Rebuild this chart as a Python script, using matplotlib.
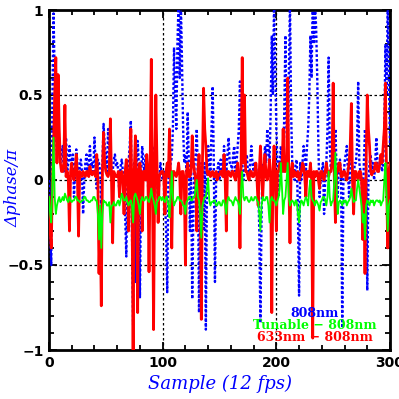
import numpy as np
import matplotlib
matplotlib.use("Agg")
import matplotlib.pyplot as plt

# phase per frame, samples 0..300
blue_808 = [
    0.0, -0.3, -0.5, 0.5, 0.98, 0.6, 0.3, 0.15, 0.42, 0.2,
    0.1, 0.15, 0.2, 0.05, 0.13, 0.25, 0.05, 0.1, 0.2, 0.12,
    0.08, 0.15, -0.1, 0.05, 0.18, 0.1, 0.0, 0.08, 0.12, 0.05,
    -0.2, 0.0, 0.1, 0.15, 0.05, 0.1, 0.2, 0.08, 0.1, 0.05,
    0.25, 0.1, -0.05, 0.12, 0.1, 0.05, -0.2, 0.1, 0.33, 0.2,
    0.15, 0.05, 0.3, 0.18, 0.1, 0.05, 0.05, 0.12, 0.15, 0.08,
    0.1, 0.05, -0.1, 0.08, 0.12, 0.05, 0.0, -0.2, -0.45, 0.0,
    0.1, 0.2, 0.35, -0.3, -0.85, 0.1, -0.6, 0.05, 0.23, 0.1,
    -0.69, 0.0, 0.2, 0.1, 0.05, 0.15, 0.12, 0.0, -0.2, 0.05,
    0.1, 0.2, -0.3, 0.1, 0.28, 0.05, -0.15, 0.0, 0.1, 0.05,
    0.0, 0.05, -0.1, -0.3, -0.66, 0.0, 0.05, 0.1, 0.13, 0.3,
    0.78, 0.5, 0.3, 0.8, 1.05, 0.6, 1.05, 0.7, 0.3, 0.1,
    0.15, 0.05, 0.4, 0.1, -0.3, 0.05, -0.7, -0.2, 0.1, 0.15,
    0.3, 0.0, -0.78, -0.1, 0.1, 0.05, -0.3, 0.1, -0.88, 0.0,
    0.2, 0.1, 0.05, 0.3, 0.55, 0.1, -0.6, 0.0, 0.05, 0.1,
    0.0, 0.12, 0.1, 0.05, 0.2, 0.1, 0.05, 0.15, 0.25, 0.1,
    0.1, 0.05, 0.15, 0.2, 0.05, 0.1, 0.2, 0.3, 0.58, 0.2,
    0.1, 0.0, 0.05, 0.1, 0.15, 0.05, 0.0, 0.1, 0.2, 0.1,
    0.05, 0.1, 0.1, 0.0, 0.0, -0.3, -0.84, -0.2, 0.1, 0.05,
    0.2, 0.1, 0.3, 0.2, 0.1, 0.4, 0.85, 0.5, 1.05, 0.7,
    0.3, 0.1, -0.1, 0.1, 0.2, 0.1, 0.05, 0.4, 0.85, 0.3,
    0.15, 0.6, 1.05, 0.4, 0.1, 0.05, 0.0, 0.1, 0.12, -0.2,
    -0.68, 0.1, 0.0, 0.1, 0.2, 0.15, 0.05, 0.2, 0.3, 0.5,
    0.85, 0.6, 1.05, 0.8, 1.05, 0.9, 0.6, 0.2, -0.1, 0.0,
    0.05, 0.1, -0.2, 0.0, 0.1, 0.3, 0.72, 0.2, 0.05, 0.1,
    0.1, 0.15, 0.3, 0.05, -0.1, 0.1, 0.12, 0.0, -0.87, 0.0,
    0.1, 0.15, 0.2, 0.05, -0.1, 0.1, 0.12, 0.05, 0.0, 0.1,
    0.1, 0.2, 0.58, 0.1, 0.05, 0.0, -0.2, 0.1, 0.3, 0.1,
    -0.65, 0.0, 0.1, 0.15, 0.05, 0.1, 0.0, 0.1, 0.25, 0.1,
    0.05, 0.1, 0.1, 0.05, 0.1, 0.3, 0.8, 0.5, 1.05, 0.6,
    0.2,
]
red_633 = [
    -0.1, -0.3, -0.4, 0.0, 0.2, 0.5, 0.72, 0.1, 0.62, 0.3,
    0.1, 0.05, 0.05, 0.1, 0.44, 0.02, 0.05, 0.0, -0.3, 0.05,
    0.1, 0.03, 0.0, 0.05, 0.15, 0.02, -0.33, 0.05, 0.04, 0.02,
    0.05, 0.03, 0.02, 0.05, 0.05, 0.02, 0.08, 0.04, 0.03, 0.05,
    0.04, 0.02, 0.15, 0.0, -0.55, -0.2, -0.74, 0.05, 0.28, 0.1,
    0.05, 0.03, 0.02, 0.05, 0.36, 0.0, -0.37, 0.05, 0.03, 0.02,
    0.02, 0.05, -0.1, 0.03, 0.05, 0.0, -0.2, 0.05, 0.12, 0.02,
    -0.3, 0.05, 0.3, -0.1, -1.0, 0.05, 0.26, 0.0, -0.78, 0.05,
    0.1, 0.02, -0.3, 0.05, 0.05, 0.0, 0.15, 0.05, -0.54, 0.1,
    0.71, 0.0, -0.88, 0.05, 0.5, 0.1, -0.25, 0.02, 0.04, 0.05,
    0.05, 0.02, -0.2, 0.05, 0.1, 0.02, 0.3, 0.0, -0.4, 0.05,
    0.05, 0.03, 0.02, 0.05, 0.1, 0.02, -0.2, 0.05, 0.05, 0.0,
    -0.5, 0.05, 0.1, 0.02, 0.02, 0.05, 0.26, 0.1, 0.05, 0.0,
    -0.3, 0.05, 0.15, 0.0, -0.82, 0.1, 0.54, 0.3, 0.2, 0.05,
    0.03, 0.05, 0.02, 0.04, 0.05, 0.02, 0.02, 0.05, 0.0, 0.03,
    0.03, 0.05, 0.05, 0.02, 0.15, 0.0, -0.3, 0.05, 0.05, 0.03,
    0.02, 0.05, 0.05, 0.02, 0.0, 0.05, 0.1, 0.0, -0.4, 0.1,
    0.72, 0.1, 0.5, 0.05, 0.05, 0.02, 0.0, 0.05, 0.05, 0.02,
    0.02, 0.05, 0.1, 0.0, -0.15, 0.05, 0.2, 0.05, -0.1, 0.05,
    0.15, 0.02, 0.0, 0.05, 0.12, 0.0, -0.78, 0.05, 0.2, 0.05,
    -0.3, 0.05, 0.05, 0.1, 0.1, 0.05, 0.3, 0.05, 0.05, 0.1,
    0.6, 0.0, -0.37, 0.05, 0.1, 0.02, 0.05, 0.03, 0.02, 0.05,
    0.0, 0.02, 0.05, 0.1, 0.08, 0.02, -0.1, 0.05, 0.05, 0.02,
    0.1, 0.0, -0.93, 0.05, 0.02, 0.05, 0.05, 0.0, -0.05, 0.05,
    0.05, 0.02, 0.0, 0.05, 0.1, 0.05, 0.02, 0.05, 0.05, 0.1,
    0.57, 0.0, -0.25, 0.05, 0.05, 0.1, 0.1, 0.02, 0.02, 0.05,
    0.05, 0.02, 0.0, 0.05, 0.1, 0.2, 0.45, 0.0, -0.2, 0.05,
    0.05, 0.02, 0.0, 0.05, 0.05, 0.0, -0.35, 0.0, -0.55, 0.1,
    0.5, 0.3, 0.2, 0.05, 0.03, 0.05, 0.05, 0.1, 0.1, 0.05,
    0.05, 0.1, 0.15, 0.1, 0.2, 0.3, 0.57, 0.0, -0.4, 0.05,
    0.1,
]
tunable_808 = [
    -0.1, -0.2, -0.25, 0.0, 0.25, -0.1, -0.2, -0.15, -0.12, -0.1,
    -0.13, -0.12, -0.1, -0.12, -0.08, -0.1, -0.12, -0.13, -0.1, -0.12,
    -0.13, -0.12, -0.12, -0.1, -0.1, -0.12, -0.12, -0.13, -0.13, -0.12,
    -0.12, -0.1, -0.1, -0.12, -0.12, -0.13, -0.13, -0.12, -0.12, -0.1,
    -0.1, -0.12, -0.12, -0.2, -0.35, -0.15, -0.4, -0.2, -0.12, -0.13,
    -0.13, -0.15, -0.15, -0.13, -0.25, -0.15, -0.15, -0.13, -0.15, -0.15,
    -0.13, -0.12, -0.15, -0.12, -0.08, -0.1, -0.12, -0.12, -0.1, -0.13,
    -0.15, -0.13, -0.12, -0.15, -0.25, -0.1, -0.08, -0.1, -0.12, -0.15,
    -0.2, -0.12, -0.1, -0.12, -0.12, -0.1, -0.1, -0.12, -0.13, -0.1,
    -0.05, -0.1, -0.12, -0.15, -0.2, -0.13, -0.12, -0.1, -0.1, -0.12,
    -0.1, -0.12, -0.13, -0.1, -0.1, -0.15, -0.22, -0.1, 0.05, -0.1,
    -0.15, -0.13, -0.12, -0.1, -0.1, -0.12, -0.12, -0.13, -0.15, -0.15,
    -0.2, -0.13, -0.12, -0.1, -0.1, -0.12, -0.12, -0.1, -0.1, -0.05,
    0.0, -0.1, -0.12, -0.2, -0.34, -0.15, -0.12, -0.1, -0.1, -0.05,
    0.01, -0.12, -0.15, -0.13, -0.13, -0.12, -0.12, -0.15, -0.15, -0.13,
    -0.13, -0.15, -0.15, -0.12, -0.12, -0.15, -0.2, -0.12, -0.1, -0.12,
    -0.12, -0.13, -0.15, -0.12, -0.1, -0.12, -0.12, -0.15, -0.2, -0.05,
    0.05, -0.1, -0.12, -0.1, -0.1, -0.12, -0.13, -0.12, -0.1, -0.12,
    -0.12, -0.1, -0.1, -0.12, -0.13, -0.2, -0.3, -0.15, -0.1, -0.12,
    -0.12, -0.1, -0.1, -0.15, -0.25, -0.12, -0.1, -0.12, -0.12, -0.13,
    -0.15, -0.12, -0.1, -0.05, 0.1, -0.05, -0.2, -0.12, -0.1, 0.0,
    0.1, -0.1, -0.15, -0.13, -0.12, -0.13, -0.15, -0.12, -0.13, -0.2,
    -0.25, -0.15, -0.12, -0.13, -0.15, -0.12, -0.1, -0.12, -0.15, -0.05,
    0.0, -0.1, -0.12, -0.13, -0.15, -0.12, -0.13, -0.15, -0.18, -0.13,
    -0.12, -0.1, -0.1, -0.12, -0.15, -0.1, 0.05, -0.1, -0.15, -0.13,
    -0.12, 0.0, 0.16, -0.05, -0.2, -0.13, -0.12, -0.13, -0.15, -0.12,
    -0.13, -0.12, -0.15, -0.13, -0.12, -0.1, -0.05, -0.1, -0.13, -0.12,
    -0.12, -0.05, 0.0, -0.05, -0.1, -0.15, -0.25, -0.2, -0.35, -0.15,
    -0.12, -0.13, -0.15, -0.12, -0.13, -0.12, -0.15, -0.13, -0.12, -0.12,
    -0.13, -0.12, -0.15, -0.13, -0.12, 0.0, 0.1, -0.1, -0.3, -0.15,
    -0.12,
]
labels = ["808nm", "Tunable \u2212 808nm", "633nm \u2212 808nm"]
colors = ["#0000ff", "#00ff00", "#ff0000"]

fig = plt.figure(figsize=(3.99, 3.99), dpi=100)
ax = fig.add_axes([49/399, 1 - 350/399, 341/399, 340/399])

ax.plot(np.arange(len(blue_808)), blue_808, color=colors[0], lw=1.7, ls=(0, (1.1, 0.9)), zorder=3)
ax.plot(np.arange(len(red_633)), red_633, color=colors[2], lw=2.0, zorder=4)
ax.plot(np.arange(len(tunable_808)), tunable_808, color=colors[1], lw=1.3, zorder=5)

ax.set_xlim(0, 300)
ax.set_ylim(-1, 1)

# dotted grid
for gx in (100, 200):
    ax.axvline(gx, color='k', lw=0.9, ls=(0, (2, 2)), zorder=1)
for gy in (-0.5, 0, 0.5):
    ax.axhline(gy, color='k', lw=0.9, ls=(0, (2, 2)), zorder=1)

ax.set_xticks([0, 100, 200, 300])
ax.set_xticks(np.arange(0, 301, 20), minor=True)
ax.set_yticks([-1, -0.5, 0, 0.5, 1])
ax.set_yticklabels(["\u22121", "\u22120.5", "0", "0.5", "1"])
ax.set_yticks(np.arange(-1, 1.01, 0.1), minor=True)
ax.tick_params(which='both', direction='in', top=True, right=True, width=1.3, colors='k')
ax.tick_params(which='major', length=6, pad=4, labelsize=10)
ax.tick_params(which='minor', length=3.5)
for lab in ax.get_xticklabels() + ax.get_yticklabels():
    lab.set_fontweight('bold')
for s in ax.spines.values():
    s.set_linewidth(2)

ax.set_xlabel("Sample (12 fps)", color='#0000ff', fontsize=13, fontstyle='italic',
              family='DejaVu Serif', labelpad=4)
ax.set_ylabel("\u0394phase/\u03c0", color='#0000ff', fontsize=12, fontstyle='italic',
              family='DejaVu Serif')
ax.yaxis.set_label_coords(-0.082, 0.476)

for i, (t, c) in enumerate(zip(labels, colors)):
    ax.text(0.78, 0.106 - i * 0.035, t, color=c, fontsize=9, fontweight='bold',
            family='DejaVu Serif', ha='center', va='center',
            transform=ax.transAxes, zorder=6)

fig.savefig("out.png", dpi=100)
